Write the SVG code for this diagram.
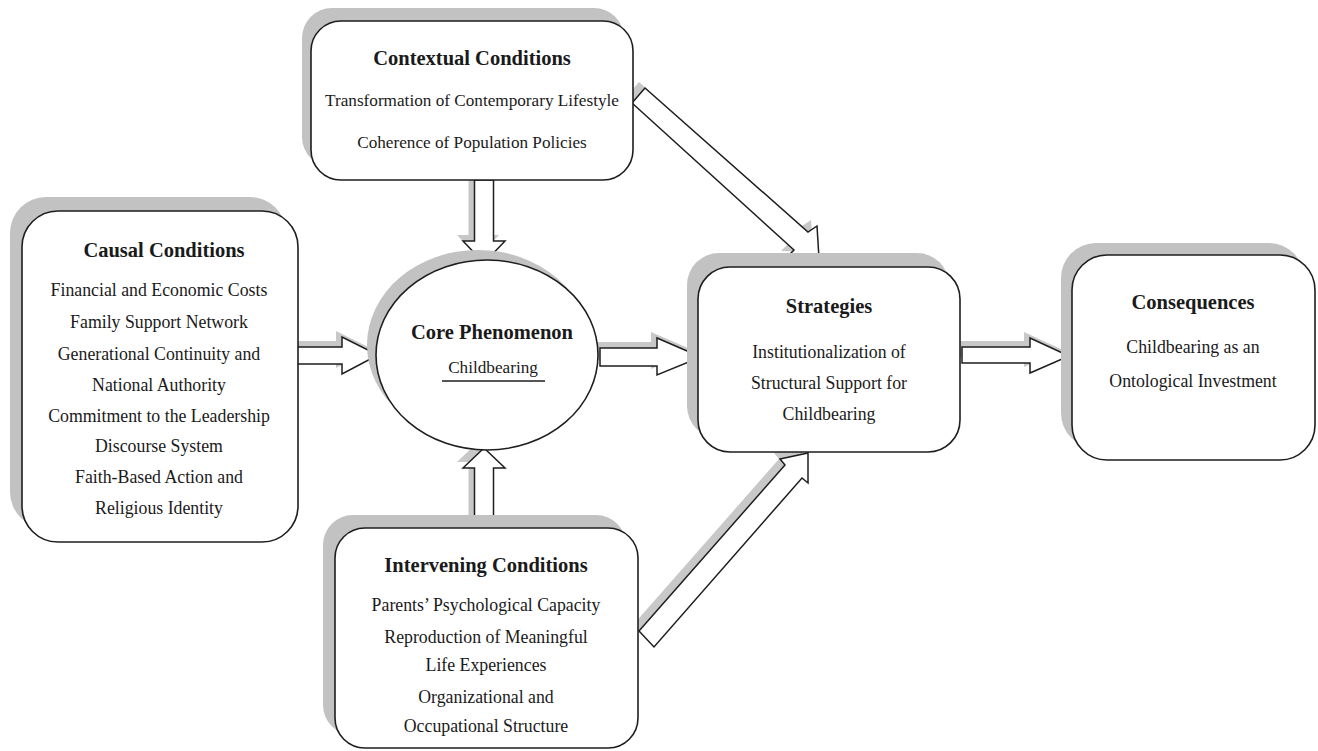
<svg xmlns="http://www.w3.org/2000/svg" width="1318" height="751" viewBox="0 0 1318 751">
<defs>
<style>
.shadow{fill:#c2c2c2;stroke:none}
.box{fill:#ffffff;stroke:#1e1e1e;stroke-width:1.6}
.arrow{fill:#ffffff;stroke:#1e1e1e;stroke-width:1.5;stroke-linejoin:miter}
.ashadow{fill:#c8c8c8;stroke:none}
text{font-family:"Liberation Serif","Times New Roman",serif;fill:#1a1a1a;text-anchor:middle}
.title{font-size:20.5px;font-weight:bold}
.body{font-size:17.2px}
.bodyl{font-size:17.8px}
</style>
</defs>
<rect width="1318" height="751" fill="#ffffff"/>

<g id="connectors">
  <!-- Contextual -> Core -->
  <polygon class="ashadow" points="468.5,174 487.5,174 487.5,235 499,235 478,257 457,235 468.5,235"/>
  <polygon class="arrow" points="474.5,180 493.5,180 493.5,241 505,241 484,263 463,241 474.5,241"/>
  <!-- Intervening -> Core -->
  <polygon class="ashadow" points="468.5,522 487.5,522 487.5,462 499,462 478,442 457,462 468.5,462"/>
  <polygon class="arrow" points="474.5,528 493.5,528 493.5,468 505,468 484,448 463,468 474.5,468"/>
  <!-- Causal -> Core -->
  <polygon class="ashadow" points="289,341 336,341 336,331 372,349 336,368 336,358 289,358"/>
  <polygon class="arrow" points="295,347 342,347 342,337 378,355 342,374 342,364 295,364"/>
  <!-- Core -> Strategies -->
  <polygon class="ashadow" points="594,342 651,342 651,332 695,351 651,369 651,360 594,360"/>
  <polygon class="arrow" points="600,348 657,348 657,338 701,357 657,375 657,366 600,366"/>
  <!-- Strategies -> Consequences -->
  <polygon class="ashadow" points="956,341 1024,341 1024,332 1063,350 1024,367 1024,357 956,357"/>
  <polygon class="arrow" points="962,347 1030,347 1030,338 1069,356 1030,373 1030,363 962,363"/>
  <!-- Contextual -> Strategies -->
  <polygon class="ashadow" points="639,82 802,226 811,220 813,252 781,251 788,244 626,97"/>
  <polygon class="arrow" points="645,88 808,232 817,226 819,258 787,257 794,250 632,103"/>
  <!-- Intervening -> Strategies -->
  <polygon class="ashadow" points="633,625 779,459 774,453 802,447 802,477 796,472 648,641"/>
  <polygon class="arrow" points="639,631 785,465 780,459 808,453 808,483 802,478 654,647"/>
</g>

<g id="contextual">
  <rect class="shadow" x="302" y="8" width="322" height="159" rx="30"/>
  <rect class="box" x="311" y="21" width="322" height="159" rx="30"/>
  <text class="title" x="472" y="65">Contextual Conditions</text>
  <text class="body" x="472" y="106">Transformation of Contemporary Lifestyle</text>
  <text class="body" x="472" y="148">Coherence of Population Policies</text>
</g>

<g id="causal">
  <rect class="shadow" x="10" y="197" width="276" height="331" rx="36"/>
  <rect class="box" x="22" y="211" width="276" height="331" rx="36"/>
  <text class="title" x="164" y="257">Causal Conditions</text>
  <text class="bodyl" x="159" y="296">Financial and Economic Costs</text>
  <text class="bodyl" x="159" y="328">Family Support Network</text>
  <text class="bodyl" x="159" y="360">Generational Continuity and</text>
  <text class="bodyl" x="159" y="391">National Authority</text>
  <text class="bodyl" x="159" y="422">Commitment to the Leadership</text>
  <text class="bodyl" x="159" y="452">Discourse System</text>
  <text class="bodyl" x="159" y="483">Faith-Based Action and</text>
  <text class="bodyl" x="159" y="514">Religious Identity</text>
</g>

<g id="core">
  <ellipse class="shadow" cx="478" cy="345" rx="111" ry="95"/>
  <ellipse class="box" cx="487" cy="355" rx="111" ry="95"/>
  <text class="title" x="492" y="339">Core Phenomenon</text>
  <text class="body" x="493" y="373">Childbearing</text>
  <line x1="442" y1="381" x2="545" y2="381" stroke="#1e1e1e" stroke-width="1.3"/>
</g>

<g id="strategies">
  <rect class="shadow" x="687" y="253" width="262" height="185" rx="32"/>
  <rect class="box" x="698" y="267" width="262" height="185" rx="32"/>
  <text class="title" x="829" y="313">Strategies</text>
  <text class="bodyl" x="829" y="358">Institutionalization of</text>
  <text class="bodyl" x="829" y="389">Structural Support for</text>
  <text class="bodyl" x="829" y="420">Childbearing</text>
</g>

<g id="consequences">
  <rect class="shadow" x="1061" y="243" width="243" height="205" rx="35"/>
  <rect class="box" x="1072" y="255" width="243" height="205" rx="35"/>
  <text class="title" x="1193" y="309">Consequences</text>
  <text class="bodyl" x="1193" y="353">Childbearing as an</text>
  <text class="bodyl" x="1193" y="387">Ontological Investment</text>
</g>

<g id="intervening">
  <rect class="shadow" x="323" y="515" width="303" height="220" rx="30"/>
  <rect class="box" x="335" y="528" width="303" height="220" rx="30"/>
  <text class="title" x="486" y="572">Intervening Conditions</text>
  <text class="bodyl" x="486" y="611">Parents’ Psychological Capacity</text>
  <text class="bodyl" x="486" y="643">Reproduction of Meaningful</text>
  <text class="bodyl" x="486" y="671">Life Experiences</text>
  <text class="bodyl" x="486" y="703">Organizational and</text>
  <text class="bodyl" x="486" y="732">Occupational Structure</text>
</g>
</svg>
